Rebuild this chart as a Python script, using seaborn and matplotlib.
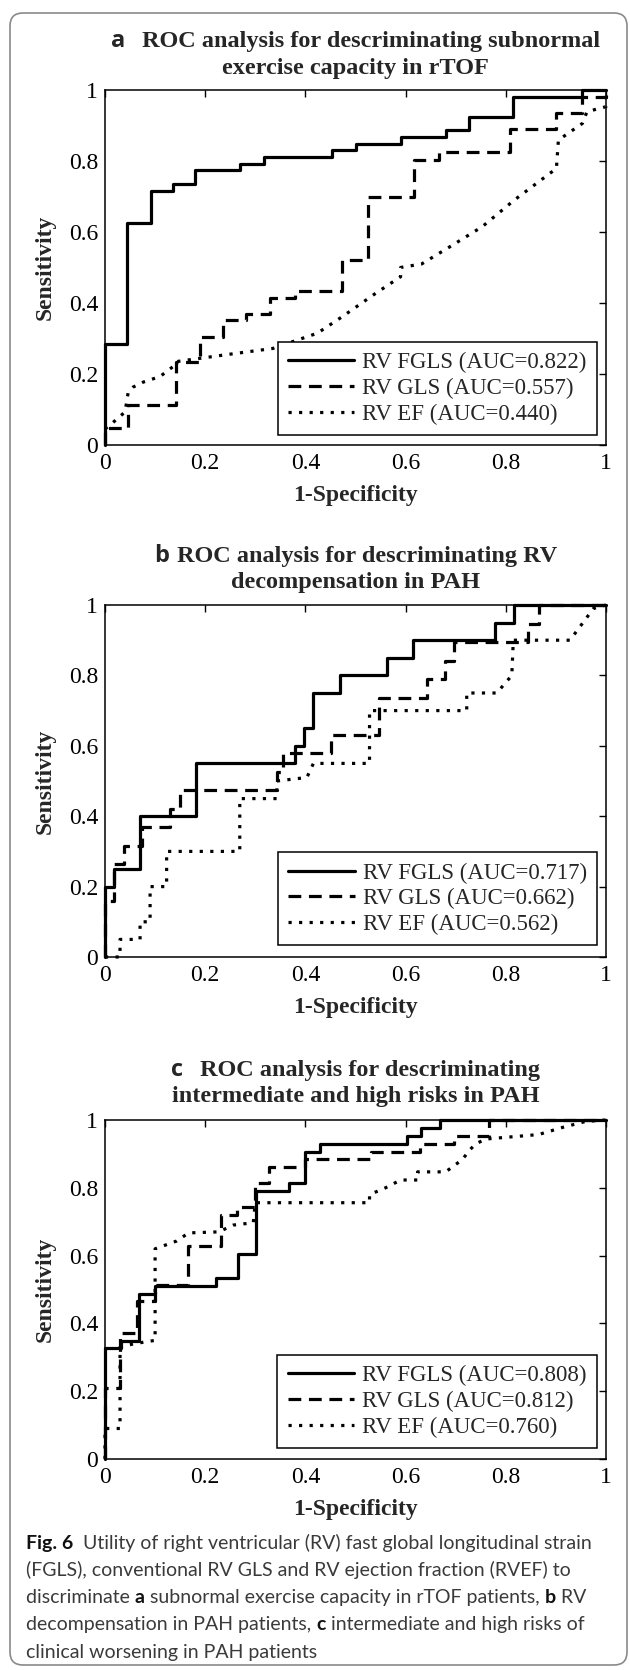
import numpy as np
import pandas as pd
import matplotlib
matplotlib.use("Agg")
import matplotlib.pyplot as plt
import seaborn as sns
from matplotlib.patches import FancyBboxPatch
from matplotlib.transforms import IdentityTransform

# ---------------- data ----------------
panel_letters = ["a", "b", "c"]
title_line1 = ["ROC analysis for descriminating subnormal",
               "ROC analysis for descriminating RV",
               "ROC analysis for descriminating"]
title_line2 = ["exercise capacity in rTOF",
               "decompensation in PAH",
               "intermediate and high risks in PAH"]
series_names = ["RV FGLS", "RV GLS", "RV EF"]
auc_a = [0.822, 0.557, 0.440]
auc_b = [0.717, 0.662, 0.562]
auc_c = [0.808, 0.812, 0.760]
tick_values = [0, 0.2, 0.4, 0.6, 0.8, 1]
tick_labels = ["0", "0.2", "0.4", "0.6", "0.8", "1"]
x_label = "1-Specificity"
y_label = "Sensitivity"

# panel a (rTOF)
a_fgls_fpr = [0, 0, 0.043, 0.091, 0.135, 0.179, 0.270, 0.318, 0.454, 0.500, 0.591, 0.680, 0.726, 0.815, 0.952, 1.0]
a_fgls_tpr = [0, 0.285, 0.625, 0.716, 0.736, 0.774, 0.792, 0.811, 0.830, 0.849, 0.868, 0.887, 0.925, 0.981, 1.0, 1.0]
a_gls_fpr = [0, 0, 0.046, 0.142, 0.189, 0.235, 0.281, 0.329, 0.380, 0.473, 0.524, 0.616, 0.666, 0.809, 0.901, 0.952, 1.0, 1.0]
a_gls_tpr = [0, 0.047, 0.113, 0.235, 0.303, 0.352, 0.370, 0.413, 0.435, 0.522, 0.700, 0.803, 0.824, 0.891, 0.935, 0.980, 0.980, 1.0]
a_ef_fpr = [0.0, 0.010, 0.026, 0.040, 0.046, 0.056, 0.076, 0.110, 0.135, 0.143, 0.189, 0.240, 0.335, 0.424, 0.472, 0.540,
            0.590, 0.590, 0.632, 0.689, 0.753, 0.817, 0.901, 0.905, 0.953, 0.962, 1.0, 1.0]
a_ef_tpr = [0.045, 0.056, 0.076, 0.093, 0.146, 0.163, 0.177, 0.193, 0.220, 0.235, 0.244, 0.254, 0.272, 0.315, 0.360, 0.427,
            0.474, 0.500, 0.510, 0.559, 0.615, 0.690, 0.779, 0.859, 0.906, 0.939, 0.953, 1.0]

# panel b (PAH decompensation)
b_fgls_fpr = [0, 0, 0.018, 0.070, 0.181, 0.379, 0.397, 0.415, 0.470, 0.562, 0.615, 0.778, 0.816, 1.0]
b_fgls_tpr = [0, 0.20, 0.25, 0.40, 0.55, 0.60, 0.65, 0.75, 0.80, 0.85, 0.90, 0.95, 1.0, 1.0]
b_gls_fpr = [0, 0, 0.018, 0.037, 0.073, 0.130, 0.150, 0.343, 0.356, 0.452, 0.546, 0.642, 0.679, 0.697, 0.844, 0.866, 1.0]
b_gls_tpr = [0, 0.158, 0.263, 0.316, 0.368, 0.421, 0.474, 0.526, 0.579, 0.632, 0.737, 0.789, 0.842, 0.895, 0.947, 1.0, 1.0]
b_ef_fpr = [0, 0.030, 0.030, 0.070, 0.070, 0.090, 0.090, 0.123, 0.123, 0.269, 0.269, 0.343, 0.343, 0.403, 0.416, 0.528,
            0.528, 0.722, 0.722, 0.782, 0.812, 0.815, 0.928, 0.975, 1.0]
b_ef_tpr = [0, 0, 0.05, 0.05, 0.10, 0.10, 0.20, 0.20, 0.30, 0.30, 0.45, 0.45, 0.50, 0.51, 0.55, 0.55,
            0.70, 0.70, 0.75, 0.75, 0.80, 0.90, 0.90, 0.99, 1.0]

# panel c (PAH risk)
c_fgls_fpr = [0, 0, 0.031, 0.067, 0.100, 0.222, 0.266, 0.301, 0.368, 0.399, 0.429, 0.602, 0.631, 0.669, 1.0]
c_fgls_tpr = [0, 0.326, 0.349, 0.488, 0.511, 0.535, 0.605, 0.791, 0.814, 0.907, 0.930, 0.953, 0.977, 1.0, 1.0]
c_gls_fpr = [0, 0, 0.030, 0.063, 0.100, 0.165, 0.231, 0.263, 0.300, 0.327, 0.400, 0.530, 0.628, 0.697, 0.767, 1.0]
c_gls_tpr = [0, 0.209, 0.372, 0.465, 0.512, 0.628, 0.721, 0.744, 0.814, 0.860, 0.884, 0.907, 0.930, 0.953, 1.0, 1.0]
c_ef_fpr = [0, 0, 0.030, 0.030, 0.058, 0.100, 0.100, 0.143, 0.167, 0.227, 0.256, 0.296, 0.300, 0.528, 0.528, 0.560,
            0.590, 0.624, 0.624, 0.680, 0.713, 0.729, 0.740, 0.761, 0.865, 0.913, 0.960, 1.0]
c_ef_tpr = [0, 0.090, 0.090, 0.330, 0.340, 0.350, 0.620, 0.643, 0.667, 0.670, 0.690, 0.697, 0.756, 0.756, 0.780, 0.800,
            0.823, 0.823, 0.847, 0.847, 0.883, 0.913, 0.930, 0.944, 0.957, 0.978, 0.996, 1.0]

caption_lines = [
    [("Fig. 6", "b"), ("  Utility of right ventricular (RV) fast global longitudinal strain", "n")],
    [("(FGLS), conventional RV GLS and RV ejection fraction (RVEF) to", "n")],
    [("discriminate ", "n"), ("a", "b"), (" subnormal exercise capacity in rTOF patients, ", "n"), ("b", "b"), (" RV", "n")],
    [("decompensation in PAH patients, ", "n"), ("c", "b"), (" intermediate and high risks of", "n")],
    [("clinical worsening in PAH patients", "n")],
]

# ---------------- style ----------------
sns.set_style("white")
plt.rcParams["font.family"] = ["Liberation Serif", "DejaVu Serif"]
plt.rcParams["axes.linewidth"] = 1.1

W, H = 630, 1670
fig = plt.figure(figsize=(W / 100, H / 100), dpi=100)
fig.patch.set_facecolor("white")
renderer = fig.canvas.get_renderer()

SERIF = ["Liberation Serif", "DejaVu Serif"]
SANS_LETTER = ["Open Sans", "DejaVu Sans"]
CAP_FONT = ["Lato", "DejaVu Sans"]

# frame
frame = FancyBboxPatch((10, 5), 617, 1652, boxstyle="round,pad=0,rounding_size=13",
                       transform=IdentityTransform(), facecolor="none",
                       edgecolor="#8a8a8a", linewidth=1.2)
fig.patches.append(frame)


def place_runs(runs, baseline_px, center_px=None, left_px=None):
    objs, widths = [], []
    for s, kw, gap in runs:
        t = fig.text(0, 1 - baseline_px / H, s, ha="left", va="baseline", **kw)
        bb = t.get_window_extent(renderer=renderer)
        objs.append(t)
        widths.append(bb.width + gap)
    total = sum(widths) - runs[-1][2]
    x = left_px if left_px is not None else center_px - total / 2
    for t, w in zip(objs, widths):
        t.set_x(x / W)
        x += w
    return objs


panels = [
    dict(box=(105, 90, 606, 445), b1=47, b2=74, gap=17, auc=auc_a, leg=(0.982, 0.028),
         curves=[(a_fgls_fpr, a_fgls_tpr, "steps-post"), (a_gls_fpr, a_gls_tpr, "steps-post"),
                 (a_ef_fpr, a_ef_tpr, "default")]),
    dict(box=(105, 605, 606, 957), b1=562, b2=588, gap=8, auc=auc_b, leg=(0.982, 0.033),
         curves=[(b_fgls_fpr, b_fgls_tpr, "steps-post"), (b_gls_fpr, b_gls_tpr, "steps-post"),
                 (b_ef_fpr, b_ef_tpr, "default")]),
    dict(box=(105, 1120, 606, 1459), b1=1076, b2=1102, gap=17, auc=auc_c, leg=(0.982, 0.032),
         curves=[(c_fgls_fpr, c_fgls_tpr, "steps-post"), (c_gls_fpr, c_gls_tpr, "steps-post"),
                 (c_ef_fpr, c_ef_tpr, "default")]),
]

line_styles = ["-", (0, (4.0, 2.4)), (0, (1.0, 2.3))]

for i, p in enumerate(panels):
    l, t, r, b = p["box"]
    ax = fig.add_axes([l / W, 1 - b / H, (r - l) / W, (b - t) / H])
    handles = []
    for (fx, ty, ds), ls in zip(p["curves"], line_styles):
        df = pd.DataFrame({"fpr": fx, "tpr": ty})
        n0 = len(ax.lines)
        sns.lineplot(data=df, x="fpr", y="tpr", ax=ax, sort=False, estimator=None,
                     color="black", linewidth=2.3, legend=False)
        ln = ax.lines[n0]
        ln.set_drawstyle(ds)
        ln.set_linestyle(ls)
        ln.set_dash_capstyle("butt")
        ln.set_clip_on(False)
        handles.append(ln)
    ax.set_xlim(0, 1)
    ax.set_ylim(0, 1)
    ax.set_xticks(tick_values)
    ax.set_yticks(tick_values)
    ax.set_xticklabels(tick_labels)
    ax.set_yticklabels(tick_labels)
    ax.tick_params(direction="in", length=5, width=1.0, top=True, right=True,
                   labelsize=17, colors="black")
    ax.tick_params(axis="x", pad=6)
    ax.tick_params(axis="y", pad=5)
    for s in ax.spines.values():
        s.set_visible(True)
        s.set_color("black")
        s.set_linewidth(1.1)
    ax.set_xlabel(x_label, fontsize=17, fontweight="bold", labelpad=8)
    ax.set_ylabel(y_label, fontsize=17, fontweight="bold", labelpad=9)
    labels = [f"{n} (AUC={v:.3f})" for n, v in zip(series_names, p["auc"])]
    leg = ax.legend(handles, labels, loc="lower right", bbox_to_anchor=p["leg"],
                    bbox_transform=ax.transAxes, borderaxespad=0, frameon=True,
                    fancybox=False, edgecolor="black", framealpha=1,
                    handlelength=2.9, handletextpad=0.35, borderpad=0.45,
                    labelspacing=0.2, prop={"family": SERIF, "size": 16.5})
    leg.get_frame().set_linewidth(1.1)

    # titles
    cx = (l + r) / 2
    place_runs([(panel_letters[i], dict(family=SANS_LETTER, weight="bold", size=17), p["gap"]),
                (title_line1[i], dict(family=SERIF, weight="bold", size=17.5), 0)],
               p["b1"], center_px=cx)
    place_runs([(title_line2[i], dict(family=SERIF, weight="bold", size=17.5), 0)],
               p["b2"], center_px=cx)

# caption
cap_base = [1549, 1576, 1603, 1630, 1658]
for runs, yb in zip(caption_lines, cap_base):
    rr = []
    for s, w in runs:
        if w == "b":
            rr.append((s, dict(family=CAP_FONT, weight="bold", size=14, color="#111111"), 0))
        else:
            rr.append((s, dict(family=CAP_FONT, weight="normal", size=14, color="#3a3a3a"), 0))
    place_runs(rr, yb, left_px=26)

fig.savefig("out.png", dpi=100, facecolor="white")
